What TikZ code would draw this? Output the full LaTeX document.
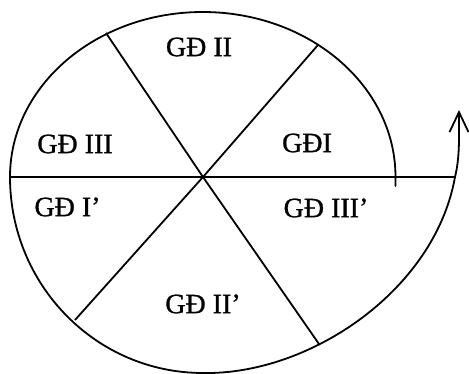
\documentclass[tikz,border=0pt]{standalone}
\usepackage{fontspec}
\setmainfont{Liberation Serif}[FakeBold=1]
\usetikzlibrary{arrows.meta}
\begin{document}
\begin{tikzpicture}[x=1pt,y=-1pt,
  curve/.style={line width=1.8pt,line cap=round,line join=round},
  spoke/.style={line width=1.8pt},
  lbl/.style={font=\fontsize{28}{30}\selectfont,inner sep=0pt,anchor=center}]
\useasboundingbox (0,0) rectangle (469,374);
% named points
\coordinate (C) at (203,177);
\coordinate (L) at (10,177);
\coordinate (R) at (455,177);
\coordinate (S) at (395.5,177);
\coordinate (B) at (203,373);
\coordinate (E) at (459,110);
\coordinate (TL) at (106,33);
\coordinate (TR) at (318,45);
\coordinate (BL) at (75,320);
\coordinate (BR) at (319,344);
\coordinate (tick) at (395.5,186);
% upper half of spiral (elliptic arc)
\draw[curve] (tick) -- (S) arc[start angle=0,end angle=-180,x radius=192.75,y radius=165];
% lower half of spiral with arrow
\draw[curve,-{Straight Barb[length=20pt,width=19pt,line width=1.8pt]}]
  (L) .. controls (10,285) and (96,373) .. (B)
      .. controls (310,375) and (435,290) .. (R)
      .. controls (460,157) and (459,135) .. (E);
% spokes
\draw[spoke] (L) -- (R);
\draw[spoke] (TL) -- (C) -- (BR);
\draw[spoke] (TR) -- (C) -- (BL);
% labels
\node[lbl] (g2) at (199,47) {GĐ II};
\node[lbl] (g3) at (75,144) {GĐ III};
\node[lbl] (g1) at (307,143) {GĐI};
\node[lbl] (g1p) at (67.5,207) {GĐ I’};
\node[lbl] (g3p) at (326,208) {GĐ III’};
\node[lbl] (g2p) at (203,304) {GĐ II’};
\end{tikzpicture}
\end{document}
